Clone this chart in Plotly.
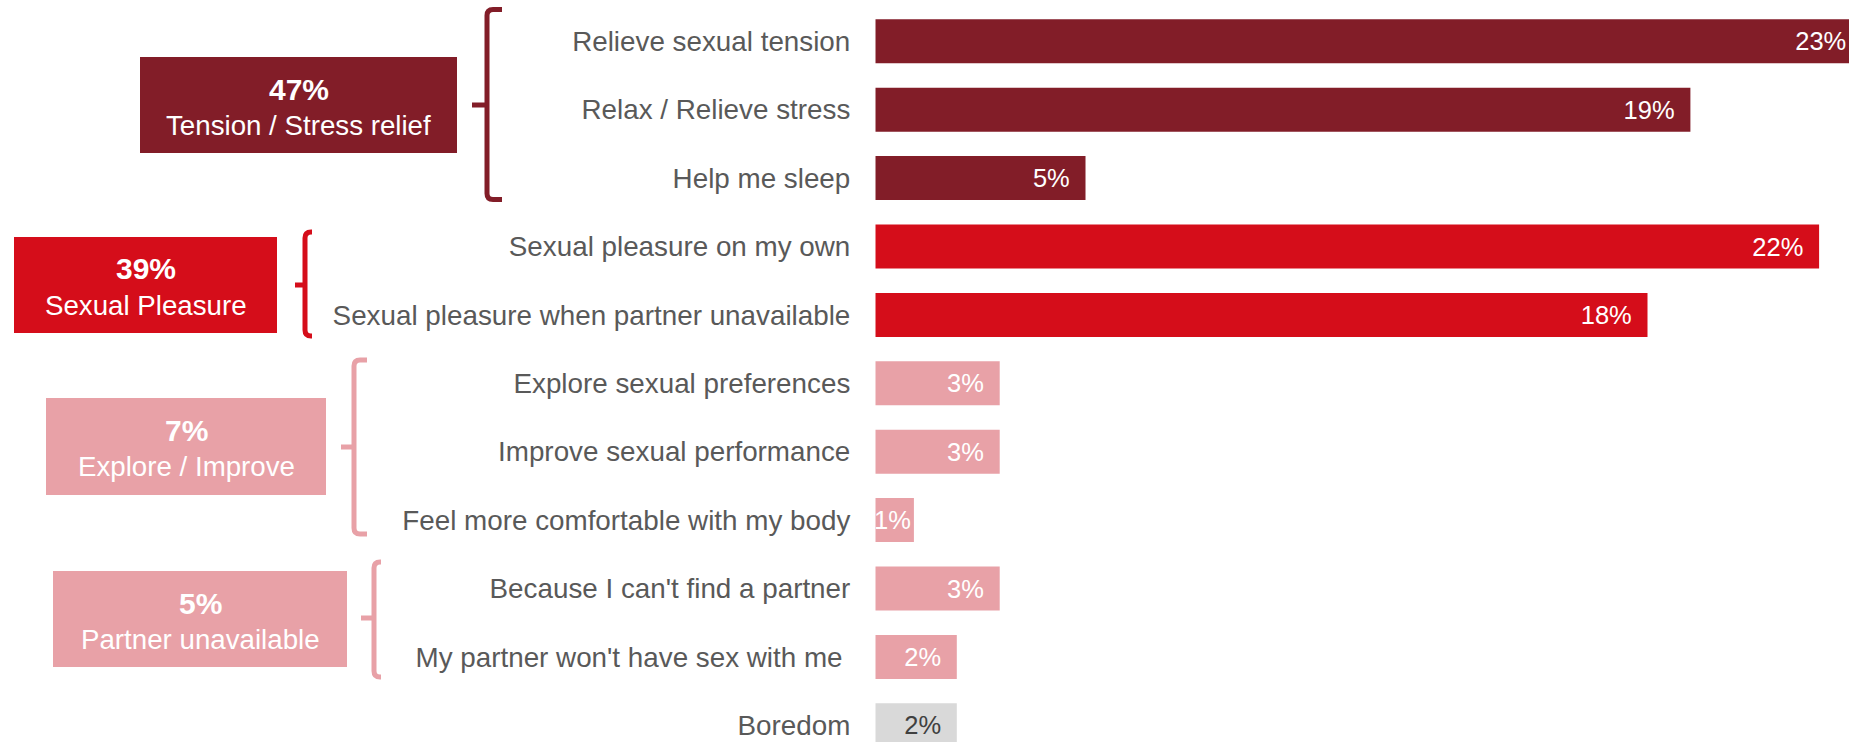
import plotly.graph_objects as go

# ---------------- data ----------------
categories = [
    "Relieve sexual tension",
    "Relax / Relieve stress",
    "Help me sleep",
    "Sexual pleasure on my own",
    "Sexual pleasure when partner unavailable",
    "Explore sexual preferences",
    "Improve sexual performance",
    "Feel more comfortable with my body",
    "Because I can't find a partner",
    "My partner won't have sex with me\u00a0",
    "Boredom",
]
values = [23.0, 19.0, 4.9, 22.0, 18.0, 2.9, 2.9, 0.9, 2.9, 1.9, 1.9]
value_labels = ["23%", "19%", "5%", "22%", "18%", "3%", "3%", "1%", "3%", "2%", "2%"]
bar_group = [0, 0, 0, 1, 1, 2, 2, 2, 3, 3, 4]

group_names = ["Tension / Stress relief", "Sexual Pleasure", "Explore / Improve", "Partner unavailable"]
group_totals = ["47%", "39%", "7%", "5%"]

# ---------------- style ----------------
PAGE_W, PAGE_H = 1849, 742
OFF = 0  # body margin removed by post_script
W, H = PAGE_W - OFF, PAGE_H - OFF
FONT = "Arial, 'Liberation Sans', sans-serif"
group_colors = ["#821D28", "#D50D1A", "#E8A1A7", "#E8A1A7", "#D9D9D9"]
label_colors = ["#FFFFFF", "#FFFFFF", "#FFFFFF", "#FFFFFF", "#404040"]

bar_colors = [group_colors[g] for g in bar_group]
text_colors = [label_colors[g] for g in bar_group]
PAD = "\u2002"
bar_texts = [t + (PAD if v >= 1.5 else "") for t, v in zip(value_labels, values)]

x0_px = 875.3          # page pixel of the value axis zero
px_per_unit = 42.9


def px(x):
    return (x - OFF) / W


def py(y):
    return 1 - (y - OFF) / H


fig = go.Figure()
fig.add_trace(go.Bar(
    y=categories,
    x=values,
    orientation="h",
    width=0.643,
    marker=dict(color=bar_colors, line=dict(width=0)),
    text=bar_texts,
    textposition="inside",
    insidetextanchor="end",
    constraintext="none",
    textangle=0,
    insidetextfont=dict(family=FONT, size=25.5, color=text_colors),
    hoverinfo="skip",
))

shapes = []
annotations = []

# group boxes (page pixel layout)
boxes = [
    (140, 57, 457, 153),
    (14, 237, 277, 333),
    (46, 398, 326, 495),
    (53, 571, 347, 667),
]
# brackets: xv, yt, yb, xr, xl, ym
brackets = [
    (487, 9.5, 199.5, 502, 472, 105),
    (305, 232, 336, 312, 295, 285),
    (354, 360, 534, 367, 341, 447),
    (374, 562, 677, 381, 361, 618),
]
for i, name in enumerate(group_names):
    c = group_colors[i]
    bx0, by0, bx1, by1 = boxes[i]
    shapes.append(dict(type="rect", xref="paper", yref="paper",
                       x0=px(bx0), x1=px(bx1), y0=py(by1), y1=py(by0),
                       fillcolor=c, line=dict(width=0), layer="below"))
    cx = (bx0 + bx1) / 2
    cy = (by0 + by1) / 2
    annotations.append(dict(xref="paper", yref="paper", x=px(cx), y=py(cy - 16),
                            text="<b>" + group_totals[i] + "</b>", showarrow=False,
                            xanchor="center", yanchor="middle",
                            font=dict(family=FONT, size=30, color="white")))
    annotations.append(dict(xref="paper", yref="paper", x=px(cx), y=py(cy + 20),
                            text=name, showarrow=False,
                            xanchor="center", yanchor="middle",
                            font=dict(family=FONT, size=27.7, color="white")))
    xv, yt, yb, xr, xl, ym = brackets[i]
    r = 6
    path = (f"M {px(xr)},{py(yt)} L {px(xv + r)},{py(yt)} Q {px(xv)},{py(yt)} {px(xv)},{py(yt + r)} "
            f"L {px(xv)},{py(yb - r)} Q {px(xv)},{py(yb)} {px(xv + r)},{py(yb)} L {px(xr)},{py(yb)} "
            f"M {px(xv)},{py(ym)} L {px(xl)},{py(ym)}")
    shapes.append(dict(type="path", xref="paper", yref="paper", path=path,
                       line=dict(color=c, width=5)))

row_h = 68.4
first_center = 41.3 - OFF
v_top = -first_center / row_h
v_bottom = v_top + H / row_h

fig.update_layout(
    width=W, height=H,
    margin=dict(l=0, r=0, t=0, b=0),
    paper_bgcolor="white", plot_bgcolor="white",
    showlegend=False,
    shapes=shapes,
    annotations=annotations,
    xaxis=dict(domain=[(x0_px - OFF) / W, 1], range=[0, (PAGE_W - x0_px) / px_per_unit],
               showgrid=False, zeroline=False, showticklabels=False, showline=False,
               fixedrange=True),
    yaxis=dict(type="category", categoryorder="array", categoryarray=categories,
               range=[v_bottom, v_top], showgrid=False, zeroline=False, showline=False,
               ticks="", ticklabelstandoff=24,
               tickfont=dict(family=FONT, size=27.8, color="#595959"),
               fixedrange=True),
    font=dict(family=FONT),
)

fig.write_html("out.html", config={"displayModeBar": False},
               post_script="document.body.style.margin='0px';document.body.style.overflow='hidden';")
